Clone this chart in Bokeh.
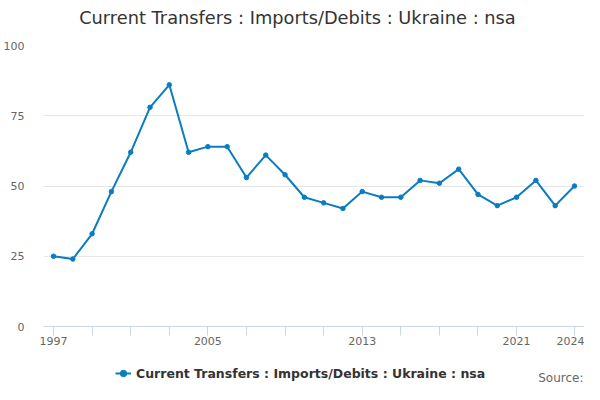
from bokeh.plotting import figure
from bokeh.models import FixedTicker, Range1d, Legend, LegendItem, Label
from bokeh.layouts import column
from bokeh.embed import file_html
from bokeh.resources import INLINE

years = list(range(1997, 2025))
values = [25, 24, 33, 48, 62, 78, 86, 62, 64, 64, 53, 61, 54, 46, 44, 42,
          48, 46, 46, 52, 51, 56, 47, 43, 46, 52, 43, 50]
x_ticks = [1997, 1999, 2001, 2003, 2005, 2007, 2009, 2011, 2013, 2015, 2017, 2019, 2021, 2024]
x_labels = {1997: "1997", 2005: "2005", 2013: "2013", 2021: "2021", 2024: "2024"}
y_ticks = [0, 25, 50, 75, 100]
series_name = "Current Transfers : Imports/Debits : Ukraine : nsa"
title_text = "Current Transfers : Imports/Debits : Ukraine : nsa"
source_text = "Source:"

FONT = "DejaVu Sans"
COLOR = "#0a7cc1"
W = 584
FW = 539  # frame width shared by the stacked figures


def blank(height):
    fig = figure(width=W, height=height, output_backend="svg", toolbar_location=None,
                 x_range=Range1d(0, FW), y_range=Range1d(0, height),
                 x_axis_location=None, y_axis_location=None,
                 min_border_left=0, min_border_right=0, min_border_top=0, min_border_bottom=0)
    fig.grid.visible = False
    fig.outline_line_color = None
    return fig


# header with title
h = blank(37)
h.add_layout(Label(x=253, y=20, text=title_text, text_align="center", text_baseline="middle",
                   text_font=FONT, text_font_size="17.8px", text_color="#333333"))

# main chart
p = figure(width=W, height=322, output_backend="svg", toolbar_location=None,
           x_range=Range1d(1996.48, 2024.52), y_range=Range1d(0, 100),
           min_border_left=40, min_border_right=0, min_border_top=8, min_border_bottom=33)
p.outline_line_color = None
p.background_fill_color = "white"

p.line(years, values, line_color=COLOR, line_width=2)
p.scatter(years, values, size=4.5, marker="circle", fill_color=COLOR, line_color=COLOR)

xa = p.xaxis[0]
xa.ticker = FixedTicker(ticks=x_ticks)
xa.major_label_overrides = {t: x_labels.get(t, "") for t in x_ticks}
xa.axis_line_color = "#ccd6eb"
xa.major_tick_line_color = "#ccd6eb"
xa.major_tick_out = 9
xa.major_tick_in = 0
xa.minor_tick_line_color = None
xa.major_label_text_font = FONT
xa.major_label_text_font_size = "11px"
xa.major_label_text_color = "#666666"
xa.major_label_standoff = 1

ya = p.yaxis[0]
ya.ticker = FixedTicker(ticks=y_ticks)
ya.axis_line_color = None
ya.major_tick_line_color = None
ya.minor_tick_line_color = None
ya.major_label_text_font = FONT
ya.major_label_text_font_size = "11px"
ya.major_label_text_color = "#666666"
ya.major_label_standoff = 13

p.xgrid.grid_line_color = None
p.ygrid.ticker = FixedTicker(ticks=y_ticks)
p.ygrid.grid_line_color = "#e6e6e6"

# footer: legend + source (legend renderers use the data, which falls outside this view)
f = blank(25)
l_line = f.line(years, values, line_color=COLOR, line_width=2)
l_pts = f.scatter(years, values, size=4.5, marker="circle", fill_color=COLOR, line_color=COLOR)

legend = Legend(items=[LegendItem(label=series_name, renderers=[l_line, l_pts])],
                location=(72, 1), orientation="horizontal",
                label_text_font=FONT, label_text_font_size="12.5px",
                label_text_font_style="bold", label_text_color="#333333",
                border_line_color=None, background_fill_alpha=0,
                glyph_width=16, label_standoff=5, padding=2, margin=0)
f.add_layout(legend, "center")

f.add_layout(Label(x=538, y=7, text=source_text, text_align="right", text_baseline="middle",
                   text_font=FONT, text_font_size="12px", text_color="#666666"))

layout = column(h, p, f, spacing=0)
open("out.html", "w").write(file_html(layout, INLINE))
